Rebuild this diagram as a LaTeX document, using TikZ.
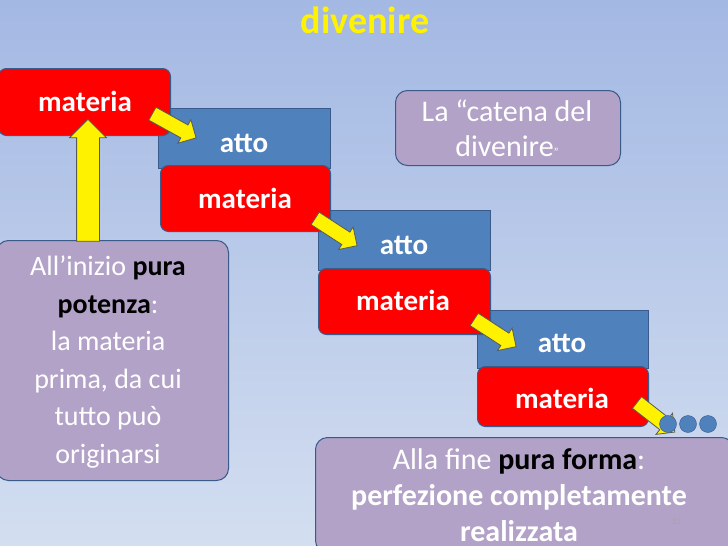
\documentclass[tikz,border=0pt]{standalone}
\usepackage{fontspec}
\setmainfont{Carlito}
\usetikzlibrary{shapes.arrows}
\definecolor{bgtop}{HTML}{A3B8E3}
\definecolor{bgbot}{HTML}{D3DEF0}
\definecolor{boxblue}{HTML}{4F81BD}
\definecolor{boxpurple}{HTML}{B2A2C7}
\definecolor{edge}{HTML}{3A5A8A}
\tikzset{
 lbl/.style={text=white,font=\fontsize{29}{33}\selectfont\bfseries},
 redbox/.style={draw=edge,fill=red,line width=1pt,rounded corners=8pt,lbl},
 bluebox/.style={draw=edge,fill=boxblue,line width=1pt},
 purplebox/.style={draw=edge,fill=boxpurple,line width=1pt,rounded corners=12pt,text=white,align=center},
 yarr/.style={single arrow,draw=gray!70!black,fill=yellow,line width=0.8pt,inner sep=7pt,single arrow head extend=6pt},
 dot/.style={circle,draw=edge,fill=boxblue,minimum size=17pt,inner sep=0pt}
}
\begin{document}
\begin{tikzpicture}[x=1pt,y=-1pt]
\shade[top color=bgtop,bottom color=bgbot] (0,0) rectangle (728,546);
\useasboundingbox (0,0) rectangle (728,546);
\node[text=yellow,font=\fontsize{38}{40}\selectfont\bfseries] (title) at (365,20) {divenire};
% steps
\draw[bluebox] (158,108) rectangle (330,168);
\draw[bluebox] (318,210) rectangle (490,270);
\draw[bluebox] (477,310) rectangle (648,368);
\node[lbl] (a1) at (244,143) {atto};
\node[lbl] (a2) at (404,245) {atto};
\node[lbl] (a3) at (562,343) {atto};
\node[redbox,minimum width=172pt,minimum height=67pt,anchor=north west] (m1) at (-2,68) {};
\node[lbl] (m1t) at (85,101) {materia};
\node[redbox,minimum width=170pt,minimum height=66pt,anchor=north west] (m2) at (160,165) {};
\node[lbl] (m2t) at (245,198) {materia};
\node[redbox,minimum width=172pt,minimum height=66pt,anchor=north west] (m3) at (318,268) {};
\node[lbl] (m3t) at (403,300) {materia};
\node[redbox,minimum width=171pt,minimum height=60pt,anchor=north west] (m4) at (477,366) {};
\node[lbl] (m4t) at (562,398) {materia};
% purple boxes
\node[purplebox,minimum width=225pt,minimum height=75pt,anchor=north west] (cat) at (395,90) {};
\node[text=white,align=center,font=\fontsize{30}{35}\selectfont] (catt) at (507,128) {La “catena del\\divenire{\fontsize{12}{12}\selectfont”}};
\node[purplebox,minimum width=232pt,minimum height=240pt,anchor=north west] (left) at (-4,240) {};
\node[text=white,align=center,font=\fontsize{28}{37.5}\selectfont] (leftt) at (108,362) {All’inizio {\color{black}\bfseries pura}\\{\color{black}\bfseries potenza}:\\la materia\\prima, da cui\\tutto può\\originarsi};
\node[purplebox,minimum width=418pt,minimum height=115pt,anchor=north west] (end) at (315,437) {};
\node[text=white,font=\fontsize{30}{36}\selectfont,align=center] (endt) at (519,495) {Alla fine {\color{black}\bfseries pura forma}:\\\bfseries perfezione completamente\\\bfseries realizzata};
\node[text=gray!70,font=\fontsize{9}{9}\selectfont] (num) at (677,522) {21};
% arrows
\node[yarr,minimum height=50pt,rotate=-29] (y1) at (171,124) {};
\node[yarr,minimum height=50pt,rotate=-33] (y2) at (333,230) {};
\node[yarr,minimum height=50pt,rotate=-33] (y3) at (492,331) {};
\node[yarr,minimum height=48pt,rotate=-38] (y4) at (653,415) {};
\node[yarr,minimum height=122pt,inner sep=11pt,single arrow head extend=7pt,rotate=90] (yup) at (88,186) {};
% dots
\node[dot] (d1) at (668,424) {};
\node[dot] (d2) at (688,424) {};
\node[dot] (d3) at (708,424) {};
\end{tikzpicture}
\end{document}
